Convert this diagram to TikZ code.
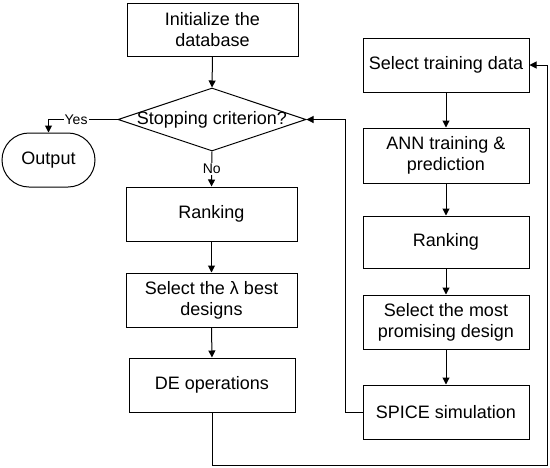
\documentclass[tikz,border=0pt]{standalone}
\usepackage{fontspec}
\setmainfont{Liberation Sans}
\usetikzlibrary{shapes.geometric,shapes.misc,arrows.meta}
\begin{document}
\begin{tikzpicture}[x=1pt,y=-1pt,
  font=\fontsize{18}{21}\selectfont,
  box/.style={draw,line width=1pt,rectangle,inner sep=0pt,align=center},
  arr/.style={draw,line width=1pt,-{Triangle[length=7pt,width=7pt]}},
  lbl/.style={fill=white,inner sep=1pt,font=\fontsize{14}{16}\selectfont}]
\useasboundingbox (0,0) rectangle (550,467);
\node[box,minimum width=171pt,minimum height=53pt] (init) at (212.5,29.5) {Initialize the\\database};
\node[draw,line width=1pt,diamond,inner sep=0pt,minimum width=188pt,minimum height=63pt] (stop) at (212,119.5) {\makebox[0pt]{Stopping criterion?}};
\node[draw,line width=1pt,rounded rectangle,inner sep=0pt,minimum width=93pt,minimum height=54pt] (out) at (48.5,160) {Output};
\node[box,minimum width=171pt,minimum height=54pt] (rankA) at (211.5,214) {Ranking};
\node[box,minimum width=171pt,minimum height=54pt] (sel) at (211.5,300) {Select the λ best\\designs};
\node[box,minimum width=166pt,minimum height=54pt] (de) at (212,385) {DE operations};
\node[box,minimum width=166pt,minimum height=54pt] (std) at (446,65) {Select training data};
\node[box,minimum width=166pt,minimum height=55pt] (ann) at (446,155.5) {ANN training \&\\prediction};
\node[box,minimum width=166pt,minimum height=52pt] (rankB) at (446,242) {Ranking};
\node[box,minimum width=166pt,minimum height=54pt] (most) at (446,322) {Select the most\\promising design};
\node[box,minimum width=166pt,minimum height=54pt] (spice) at (446,412) {SPICE simulation};
\coordinate (corner) at (547,465);
\coordinate (back) at (345,119.5);
\draw[arr] (init.south) -- (stop.north);
\draw[arr] (stop.west) -| node[lbl,pos=0.3] {Yes} (out.north);
\draw[arr] (stop.south) -- node[lbl,pos=0.5] {No} (rankA.north);
\draw[arr] (rankA.south) -- (sel.north);
\draw[arr] (sel.south) -- (de.north);
\draw[arr] (de.south) |- (corner) |- (std.east);
\draw[arr] (std.south) -- (ann.north);
\draw[arr] (ann.south) -- (rankB.north);
\draw[arr] (rankB.south) -- (most.north);
\draw[arr] (most.south) -- (spice.north);
\draw[arr] (spice.west) -| (back) -- (stop.east);
\end{tikzpicture}
\end{document}
